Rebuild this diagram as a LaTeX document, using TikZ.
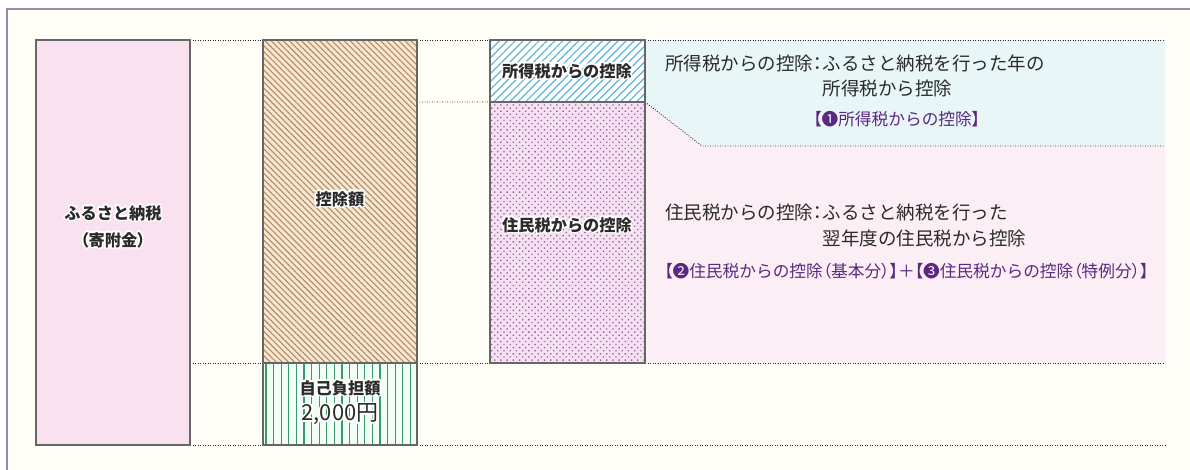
\documentclass[tikz,border=0pt]{standalone}
\usepackage{fontspec}
\setmainfont{Noto Sans CJK JP}
\newfontfamily\paltfont{Noto Sans CJK JP}[RawFeature=+palt]
\newcommand\pl[1]{{\paltfont #1}}
\usepackage{contour}
\contourlength{1.6pt}
\usetikzlibrary{patterns.meta}
\definecolor{framecol}{HTML}{9A88AA}
\definecolor{cream}{HTML}{FFFEF7}
\definecolor{pinkbox}{HTML}{F9E1F0}
\definecolor{brownbg}{HTML}{F7E7CE}
\definecolor{brownline}{HTML}{B38A6A}
\definecolor{blueline}{HTML}{5CB5D5}
\definecolor{dotbg}{HTML}{F7E0F4}
\definecolor{dotcol}{HTML}{8E6A8E}
\definecolor{greenbg}{HTML}{F2FCF6}
\definecolor{greenline}{HTML}{3A9A6A}
\definecolor{regblue}{HTML}{E9F6F7}
\definecolor{regpink}{HTML}{FCEEF5}
\definecolor{edge}{HTML}{666666}
\definecolor{txt}{HTML}{2A2A2A}
\definecolor{purp}{HTML}{5A2882}
\begin{document}
\begin{tikzpicture}[x=1pt,y=-1pt,
  barbox/.style={draw=edge, line width=1.3pt},
  guide/.style={draw=txt, line width=0.9pt, dash pattern=on 0.9pt off 1.6pt},
  lbl/.style={text=txt, font=\fontsize{16.2}{19}\selectfont\bfseries, inner sep=0pt},
  main/.style={text=txt, font=\fontsize{18.5}{22}\selectfont, inner sep=0pt, anchor=base west},
  note/.style={text=purp, font=\fontsize{16.7}{19}\selectfont, inner sep=0pt, anchor=base west}]
\useasboundingbox (0,0) rectangle (1190,469);
\fill[white] (0,0) rectangle (1190,469);
\begin{scope}
\clip (0,0) rectangle (1190,469);
\draw[framecol, line width=1.2pt, fill=cream] (7,9) rectangle (1200,480);
\end{scope}
% coloured regions on the right
\fill[regblue] (645,40) -- (1165,40) -- (1165,146) -- (702,146) -- (645,102) -- cycle;
\fill[regpink] (645,102) -- (702,146) -- (1165,146) -- (1165,363) -- (645,363) -- cycle;
% guide lines
\coordinate (g1a) at (190,40); \coordinate (g1b) at (263,40);
\coordinate (g1c) at (417,40); \coordinate (g1d) at (490,40);
\coordinate (g1e) at (645,40); \coordinate (g1f) at (1165,40);
\coordinate (g2a) at (417,102); \coordinate (g2b) at (490,102);
\coordinate (g2c) at (645,102); \coordinate (g2d) at (702,146); \coordinate (g2e) at (1165,146);
\coordinate (g3a) at (190,363); \coordinate (g3b) at (263,363);
\coordinate (g3c) at (417,363); \coordinate (g3d) at (490,363);
\coordinate (g3e) at (645,363); \coordinate (g3f) at (1165,363);
\coordinate (g4a) at (190,445); \coordinate (g4b) at (263,445);
\coordinate (g4c) at (417,445); \coordinate (g4d) at (1165,445);
\draw[guide] (g1a) -- (g1b) (g1c) -- (g1d) (g1e) -- (g1f);
\draw[guide] (g2a) -- (g2b) (g2c) -- (g2d) -- (g2e);
\draw[guide] (g3a) -- (g3b) (g3c) -- (g3d) (g3e) -- (g3f);
\draw[guide] (g4a) -- (g4b) (g4c) -- (g4d);
% bars
\draw[barbox, fill=pinkbox] (36,40) rectangle (190,445);
\draw[barbox, preaction={fill=brownbg}, pattern={Lines[angle=-45,distance=4.3pt,line width=1.1pt]}, pattern color=brownline] (263,40) rectangle (417,363);
\draw[barbox, preaction={fill=greenbg}, pattern={Lines[angle=90,distance=7.6pt,line width=1.1pt]}, pattern color=greenline] (263,363) rectangle (417,445);
\draw[barbox, preaction={fill=white}, pattern={Lines[angle=45,distance=5.6pt,line width=1.2pt]}, pattern color=blueline] (490,40) rectangle (645,102);
\draw[barbox, preaction={fill=dotbg}, pattern={Dots[angle=45,distance=4.4pt,radius=0.95pt]}, pattern color=dotcol] (490,102) rectangle (645,363);
% bar labels
\node[lbl] (furu1) at (113,214) {\contour{white}{ふるさと納税}};
\node[lbl] (furu2) at (113,241) {\contour{white}{\pl{（}寄附金\pl{）}}};
\node[lbl] (koj) at (340,200) {\contour{white}{控除額}};
\node[lbl] (jiko) at (340,389) {\contour{white}{自己負担額}};
\node[lbl, font=\fontsize{22}{25}\selectfont] (yen) at (340,415) {\contour{white}{2,000円}};
\node[lbl] (shot) at (567,72) {\contour{white}{所得税からの控除}};
\node[lbl] (jumin) at (567,226) {\contour{white}{住民税からの控除}};
% right texts
\node[main] (t1a) at (665,70) {所得税からの控除\pl{：}};
\node[main] (t1b) at (t1a.base east) {ふるさと納税を行った年の};
\node[main] (t1c) at ([yshift=-25pt]t1b.base west) {所得税から控除};
\node[note] (n1) at (813,125) {\pl{【}❶所得税からの控除\pl{】}};
\node[main] (t2a) at (665,219) {住民税からの控除\pl{：}};
\node[main] (t2b) at (t2a.base east) {ふるさと納税を行った};
\node[main] (t2c) at ([yshift=-26pt]t2b.base west) {翌年度の住民税から控除};
\node[note] (n2) at (664,277) {\pl{【}❷住民税からの控除\pl{（}基本分\pl{）】＋【}❸住民税からの控除\pl{（}特例分\pl{）】}};
\end{tikzpicture}
\end{document}
